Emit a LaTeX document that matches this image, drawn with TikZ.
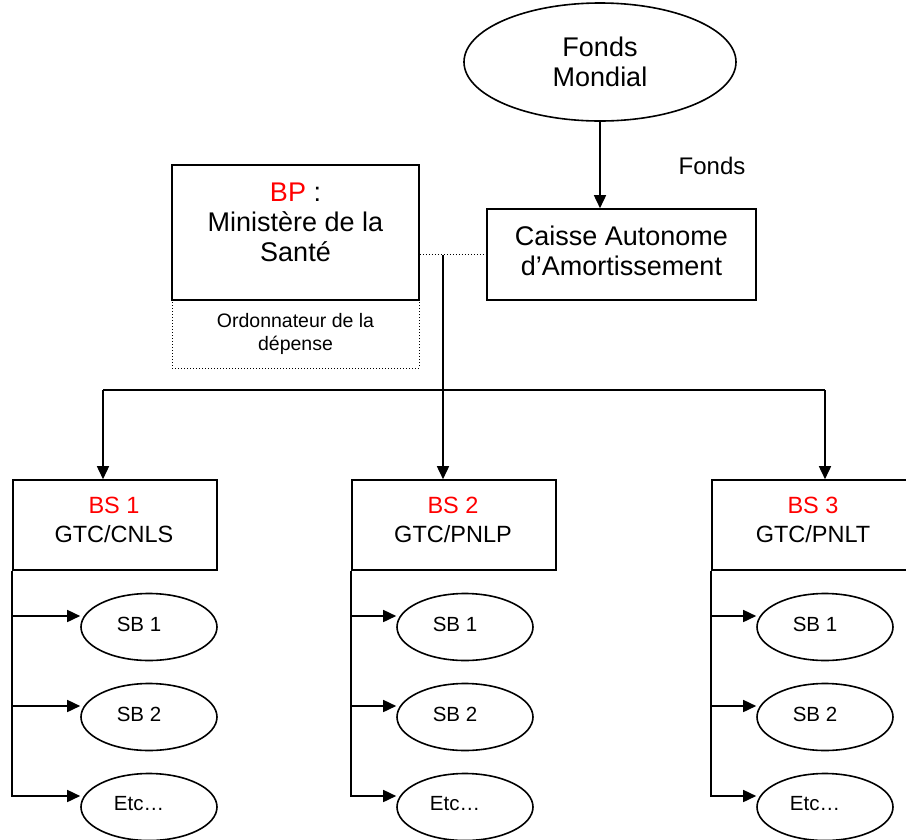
\documentclass[tikz,border=0pt]{standalone}
\usepackage{fontspec}
\setmainfont{Liberation Sans}
\usetikzlibrary{shapes.geometric,arrows.meta}
\begin{document}
\begin{tikzpicture}[x=1pt,y=-1pt,
  line width=1.6pt,
  arr/.style={-{Triangle[length=13pt,width=12pt]}},
  rbox/.style={draw, rectangle, inner sep=0pt},
  lbl/.style={align=center, inner sep=0pt},
  big/.style={font=\fontsize{27}{30}\selectfont},
  mid/.style={font=\fontsize{23.5}{29}\selectfont},
  sb/.style={draw, ellipse, inner sep=0pt, minimum width=136pt, minimum height=67pt},
  sbt/.style={inner sep=0pt, font=\fontsize{20.5}{24}\selectfont},
  bsbox/.style={rbox, minimum width=204pt, minimum height=90pt},
]
\useasboundingbox (0,0) rectangle (906,839);
\clip (0,0) rectangle (906,839);

% top
\node[draw, ellipse, inner sep=0pt, minimum width=272pt, minimum height=118pt, align=center, big] (fm) at (600,62) {Fonds\\Mondial};
\node[rbox, minimum width=269pt, minimum height=91pt] (ca) at (621.5,254.5) {};
\node[lbl, big] (cat) at (621.5,251) {Caisse Autonome\\d’Amortissement};
\node[font=\fontsize{24}{28}\selectfont, inner sep=0pt] (fl) at (712,166) {Fonds};
\draw[arr] (fm.south) -- (fm.south |- ca.north);

% BP
\node[rbox, minimum width=247pt, minimum height=135pt] (bp) at (295.5,232.5) {};
\node[lbl, big] (bpt) at (295.5,222) {\textcolor{red}{BP} :\\Ministère de la\\Santé};
\node[draw, dotted, line width=1pt, rectangle, inner sep=0pt, minimum width=247pt, minimum height=68pt, align=center, font=\fontsize{19.5}{23}\selectfont] (od) at (295.5,334) {Ordonnateur de la\\dépense};
\draw[dotted, line width=1pt] (bp.east |- ca.west) -- (ca.west);

% distribution
\coordinate (j0) at (443,255);
\coordinate (hl) at (103,390);
\coordinate (hr) at (825,390);

\node[bsbox] (b1) at (115,525) {};
\node[bsbox] (b2) at (454,525) {};
\node[bsbox] (b3) at (814,525) {};
\node[lbl, mid] (b1t) at (114,520) {\textcolor{red}{BS 1}\\GTC/CNLS};
\node[lbl, mid] (b2t) at (453,520) {\textcolor{red}{BS 2}\\GTC/PNLP};
\node[lbl, mid] (b3t) at (813,520) {\textcolor{red}{BS 3}\\GTC/PNLT};

\draw (hl) -- (hr);
\draw[arr] (j0) -- (j0 |- b2.north);
\draw[arr] (hl) -- (hl |- b1.north);
\draw[arr] (hr) -- (hr |- b3.north);

% sub-beneficiaries
\foreach \n/\x/\y/\t in {s11/149/627/SB 1, s12/149/717/SB 2, s13/149/807/Etc…,
                         s21/465/627/SB 1, s22/465/717/SB 2, s23/465/807/Etc…,
                         s31/825/627/SB 1, s32/825/717/SB 2, s33/825/807/Etc…}{
  \node[sb] (\n) at (\x,\y) {};
  \node[sbt] (\n t) at (\x-10,\y-3) {\t};
}

\foreach \b/\s in {b1/s11,b1/s12,b1/s13,b2/s21,b2/s22,b2/s23,b3/s31,b3/s32,b3/s33}{
  \draw[arr] (\b.south west) |- ([yshift=11pt]\s.west);
}
\end{tikzpicture}
\end{document}
